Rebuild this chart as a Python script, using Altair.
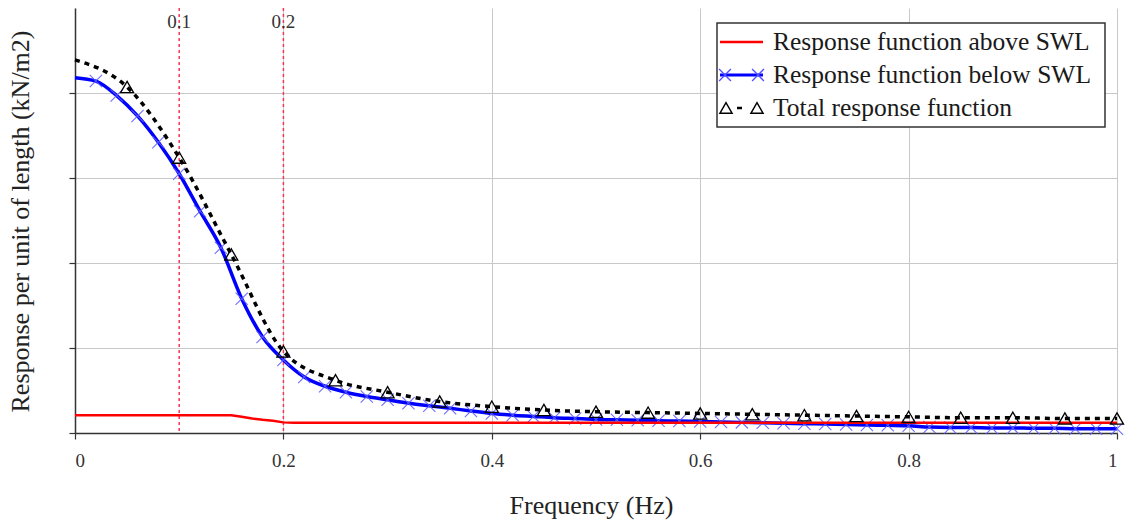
import altair as alt
import pandas as pd

FONT = "Liberation Serif"

# ---- data ----
freq_below = [0.00, 0.02, 0.04, 0.06, 0.08, 0.10, 0.12, 0.14, 0.16, 0.18,
              0.20, 0.22, 0.24, 0.26, 0.28, 0.30, 0.32, 0.34, 0.36, 0.38,
              0.40, 0.42, 0.44, 0.46, 0.48, 0.50, 0.52, 0.54, 0.56, 0.58,
              0.60, 0.62, 0.64, 0.66, 0.68, 0.70, 0.72, 0.74, 0.76, 0.78,
              0.80, 0.82, 0.84, 0.86, 0.88, 0.90, 0.92, 0.94, 0.96, 0.98, 1.00]
resp_below = [4.18, 4.14, 3.97, 3.73, 3.42, 3.05, 2.61, 2.18, 1.58, 1.13,
              0.86, 0.66, 0.55, 0.48, 0.43, 0.39, 0.35, 0.32, 0.29, 0.26,
              0.23, 0.21, 0.195, 0.18, 0.17, 0.16, 0.155, 0.15, 0.145, 0.14,
              0.135, 0.13, 0.125, 0.12, 0.115, 0.11, 0.105, 0.10, 0.095, 0.09,
              0.085, 0.07, 0.065, 0.065, 0.06, 0.06, 0.055, 0.055, 0.05, 0.05, 0.05]

freq_total = [0.00, 0.05, 0.10, 0.15, 0.20, 0.25, 0.30, 0.35, 0.40, 0.45, 0.50,
              0.55, 0.60, 0.65, 0.70, 0.75, 0.80, 0.85, 0.90, 0.95, 1.00]
resp_total = [4.39, 4.07, 3.24, 2.10, 0.96, 0.62, 0.48, 0.37, 0.31, 0.27, 0.25,
              0.24, 0.23, 0.22, 0.21, 0.20, 0.19, 0.18, 0.18, 0.17, 0.17]

freq_above = [0.00, 0.15, 0.16, 0.17, 0.18, 0.19, 0.20, 0.21, 1.00]
resp_above = [0.21, 0.21, 0.19, 0.17, 0.155, 0.145, 0.125, 0.12, 0.12]

ref_freqs = [0.1, 0.2]
ref_labels = ["0.1", "0.2"]

legend_labels = ["Response function above SWL",
                 "Response function below SWL",
                 "Total response function"]

x_ticks = [0, 0.2, 0.4, 0.6, 0.8, 1.0]
y_ticks = [0, 1, 2, 3, 4]

# ---- frames ----
df_below = pd.DataFrame({"f": freq_below, "r": resp_below})
df_below_m = df_below.iloc[1:]
df_total = pd.DataFrame({"f": freq_total, "r": resp_total})
df_total_m = df_total.iloc[1:]
df_above = pd.DataFrame({"f": freq_above, "r": resp_above})
df_ref = pd.DataFrame({"f": ref_freqs, "lab": ref_labels})
one = pd.DataFrame({"a": [0]})

W, H = 1042, 425

xs = alt.Scale(domain=[0, 1], nice=False, zero=False)
ys = alt.Scale(domain=[0, 5], nice=False)

x_enc = alt.X("f:Q", scale=xs,
              axis=alt.Axis(values=x_ticks, format="~g", title="Frequency (Hz)",
                            titleX=516, titleY=72, titleBaseline="middle",
                            titleAlign="center"))
y_enc = alt.Y("r:Q", scale=ys,
              axis=alt.Axis(values=y_ticks, labels=False,
                            title="Response per unit of length (kN/m2)",
                            titleX=-55, titleY=213, titleAngle=270,
                            titleBaseline="middle", titleAlign="center"))

XMARK = "M-1,-1L1,1M-1,1L1,-1"

ref_rules = alt.Chart(df_ref).mark_rule(
    color="#ff3355", strokeDash=[3, 3], strokeWidth=1.5
).encode(x=x_enc)

ref_text = alt.Chart(df_ref).mark_text(
    font=FONT, fontSize=19, color="#333333", baseline="middle"
).encode(x=x_enc, y=alt.value(14), text="lab:N")

line_below = alt.Chart(df_below).mark_line(
    color="#0000ff", strokeWidth=3.5, interpolate="monotone"
).encode(x=x_enc, y=y_enc)

pts_below = alt.Chart(df_below_m).mark_point(
    shape=XMARK, filled=False, size=150, color="#6060ff", strokeWidth=1.1, opacity=0.9
).encode(x=x_enc, y=y_enc)

line_above = alt.Chart(df_above).mark_line(
    color="#ff0000", strokeWidth=2.5
).encode(x=x_enc, y=y_enc)

line_total = alt.Chart(df_total).mark_line(
    color="#000000", strokeWidth=3.5, strokeDash=[5, 5], interpolate="monotone"
).encode(x=x_enc, y=y_enc)

pts_total = alt.Chart(df_total_m).mark_point(
    shape="triangle-up", filled=False, size=170, color="#000000", strokeWidth=1.3, opacity=1
).encode(x=x_enc, y=y_enc)

# ---- legend (chrome) ----
LX0, LX1, LY0, LY1 = 642, 1030, 15, 119
row_y = [34, 67, 100]
sym_x0, sym_x1 = 645, 688
text_x = 698

legend_layers = [
    alt.Chart(one).mark_rect(fill="white", stroke="#333333", strokeWidth=1.5).encode(
        x=alt.value(LX0), x2=alt.value(LX1), y=alt.value(LY0), y2=alt.value(LY1)),
    alt.Chart(one).mark_rule(color="#ff0000", strokeWidth=2.5).encode(
        x=alt.value(sym_x0), x2=alt.value(sym_x1), y=alt.value(row_y[0])),
    alt.Chart(one).mark_rule(color="#0000ff", strokeWidth=3).encode(
        x=alt.value(sym_x0), x2=alt.value(sym_x1), y=alt.value(row_y[1])),
    alt.Chart(one).mark_point(shape=XMARK, filled=False, size=140, color="#5050ff",
                              strokeWidth=1.3, opacity=1).encode(
        x=alt.value(sym_x0 + 5), y=alt.value(row_y[1])),
    alt.Chart(one).mark_point(shape=XMARK, filled=False, size=140, color="#5050ff",
                              strokeWidth=1.3, opacity=1).encode(
        x=alt.value(sym_x1 - 5), y=alt.value(row_y[1])),
    alt.Chart(one).mark_point(shape="triangle-up", filled=False, size=150, color="#000000",
                              strokeWidth=1.4, opacity=1).encode(
        x=alt.value(sym_x0 + 6), y=alt.value(row_y[2])),
    alt.Chart(one).mark_point(shape="triangle-up", filled=False, size=150, color="#000000",
                              strokeWidth=1.4, opacity=1).encode(
        x=alt.value(sym_x1 - 6), y=alt.value(row_y[2])),
    alt.Chart(one).mark_rule(color="#000000", strokeWidth=2.5).encode(
        x=alt.value(sym_x0 + 17), x2=alt.value(sym_x0 + 22), y=alt.value(row_y[2])),
]
for lab, ry in zip(legend_labels, row_y):
    legend_layers.append(
        alt.Chart(one).mark_text(font=FONT, fontSize=25.5, color="#1a1a1a",
                                 align="left", baseline="middle").encode(
            x=alt.value(text_x), y=alt.value(ry), text=alt.value(lab)))

chart = alt.layer(
    ref_rules, ref_text, line_below, pts_below, line_above, line_total, pts_total,
    *legend_layers
).properties(
    width=W, height=H,
    autosize=alt.AutoSizeParams(type="none"),
    padding={"left": 75, "top": 8, "right": 11, "bottom": 87},
    background="white",
).configure_view(
    stroke=None
).configure_axis(
    gridColor="#c8c8c8", gridWidth=1,
    domainColor="#333333", domainWidth=1.5,
    tickColor="#333333", tickSize=6, tickWidth=1.2,
    labelFont=FONT, labelFontSize=19, labelColor="#333333", labelPadding=12,
    titleFont=FONT, titleFontSize=26, titleFontWeight="normal", titleColor="#222222",
)

chart.save("out.html", embed_options={"renderer": "svg", "actions": False})
